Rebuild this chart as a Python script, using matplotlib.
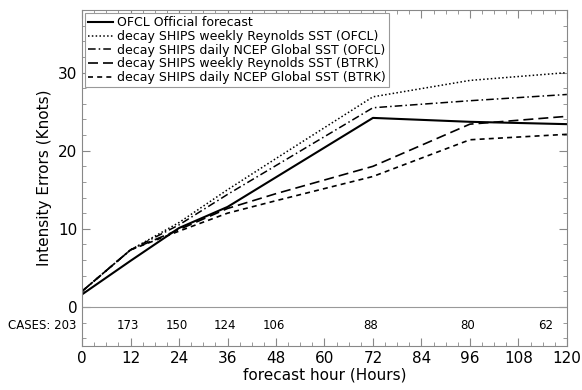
import matplotlib
matplotlib.use("Agg")
import matplotlib.pyplot as plt
from matplotlib.ticker import MultipleLocator

hours = [0, 12, 24, 36, 48, 72, 96, 120]
cases = [203, 173, 150, 124, 106, 88, 80, 62]

ofcl = [1.6, 5.9, 10.1, 12.8, 16.6, 24.2, 23.7, 23.4]
weekly_ofcl = [2.0, 7.3, 10.8, 15.0, 19.0, 26.9, 29.0, 30.0]
daily_ofcl = [2.0, 7.3, 10.5, 14.4, 18.1, 25.5, 26.4, 27.2]
weekly_btrk = [2.0, 7.3, 9.9, 12.6, 14.5, 18.0, 23.4, 24.4]
daily_btrk = [2.0, 7.3, 9.7, 12.0, 13.6, 16.7, 21.4, 22.1]

labels = ["OFCL Official forecast",
          "decay SHIPS weekly Reynolds SST (OFCL)",
          "decay SHIPS daily NCEP Global SST (OFCL)",
          "decay SHIPS weekly Reynolds SST (BTRK)",
          "decay SHIPS daily NCEP Global SST (BTRK)"]

plt.rcParams["font.size"] = 10
fig = plt.figure(figsize=(5.82, 3.9), dpi=100)
ax = fig.add_axes([0.141, 0.113, 0.833, 0.861])

ax.plot(hours, ofcl, color="black", lw=1.5, ls="-", label=labels[0])
ax.plot(hours, weekly_ofcl, color="black", lw=1.1, ls=(0, (1, 1.5)), label=labels[1])
ax.plot(hours, daily_ofcl, color="black", lw=1.1, ls=(0, (5, 2, 1, 2)), label=labels[2])
ax.plot(hours, weekly_btrk, color="black", lw=1.2, ls=(0, (6, 3)), label=labels[3])
ax.plot(hours, daily_btrk, color="black", lw=1.2, ls=(0, (3, 2.5)), label=labels[4])

ax.axhline(0, color="#999999", lw=0.8)

for h, c in zip(hours, cases):
    if h == 0:
        ax.text(-1.5, -2.4, "CASES: %d" % c, ha="right", va="center", fontsize=8.5)
    elif h == hours[-1]:
        ax.text(h - 3.5, -2.4, str(c), ha="right", va="center", fontsize=8.5)
    else:
        ax.text(h - 0.6, -2.4, str(c), ha="center", va="center", fontsize=8.5)

ax.set_xlim(0, 120)
ax.set_ylim(-5, 38)
ax.set_xticks(range(0, 121, 12))
ax.set_yticks([0, 10, 20, 30])
ax.xaxis.set_minor_locator(MultipleLocator(3))
ax.yaxis.set_minor_locator(MultipleLocator(2))
ax.tick_params(which="both", direction="in", top=True, right=True, color="#888888")
ax.tick_params(which="major", length=6, labelsize=11)
ax.tick_params(which="minor", length=3)
for s in ax.spines.values():
    s.set_color("#888888")
    s.set_linewidth(0.8)

ax.set_xlabel("forecast hour (Hours)", fontsize=11, labelpad=1)
ax.set_ylabel("Intensity Errors (Knots)", fontsize=11)

leg = ax.legend(loc="upper left", fontsize=9, handlelength=2.0, handletextpad=0.3,
                borderaxespad=0.25, borderpad=0.25, labelspacing=0.05,
                fancybox=False, framealpha=1)
leg.get_frame().set_edgecolor("#999999")
leg.get_frame().set_linewidth(0.8)

plt.savefig("out.png", dpi=100)
